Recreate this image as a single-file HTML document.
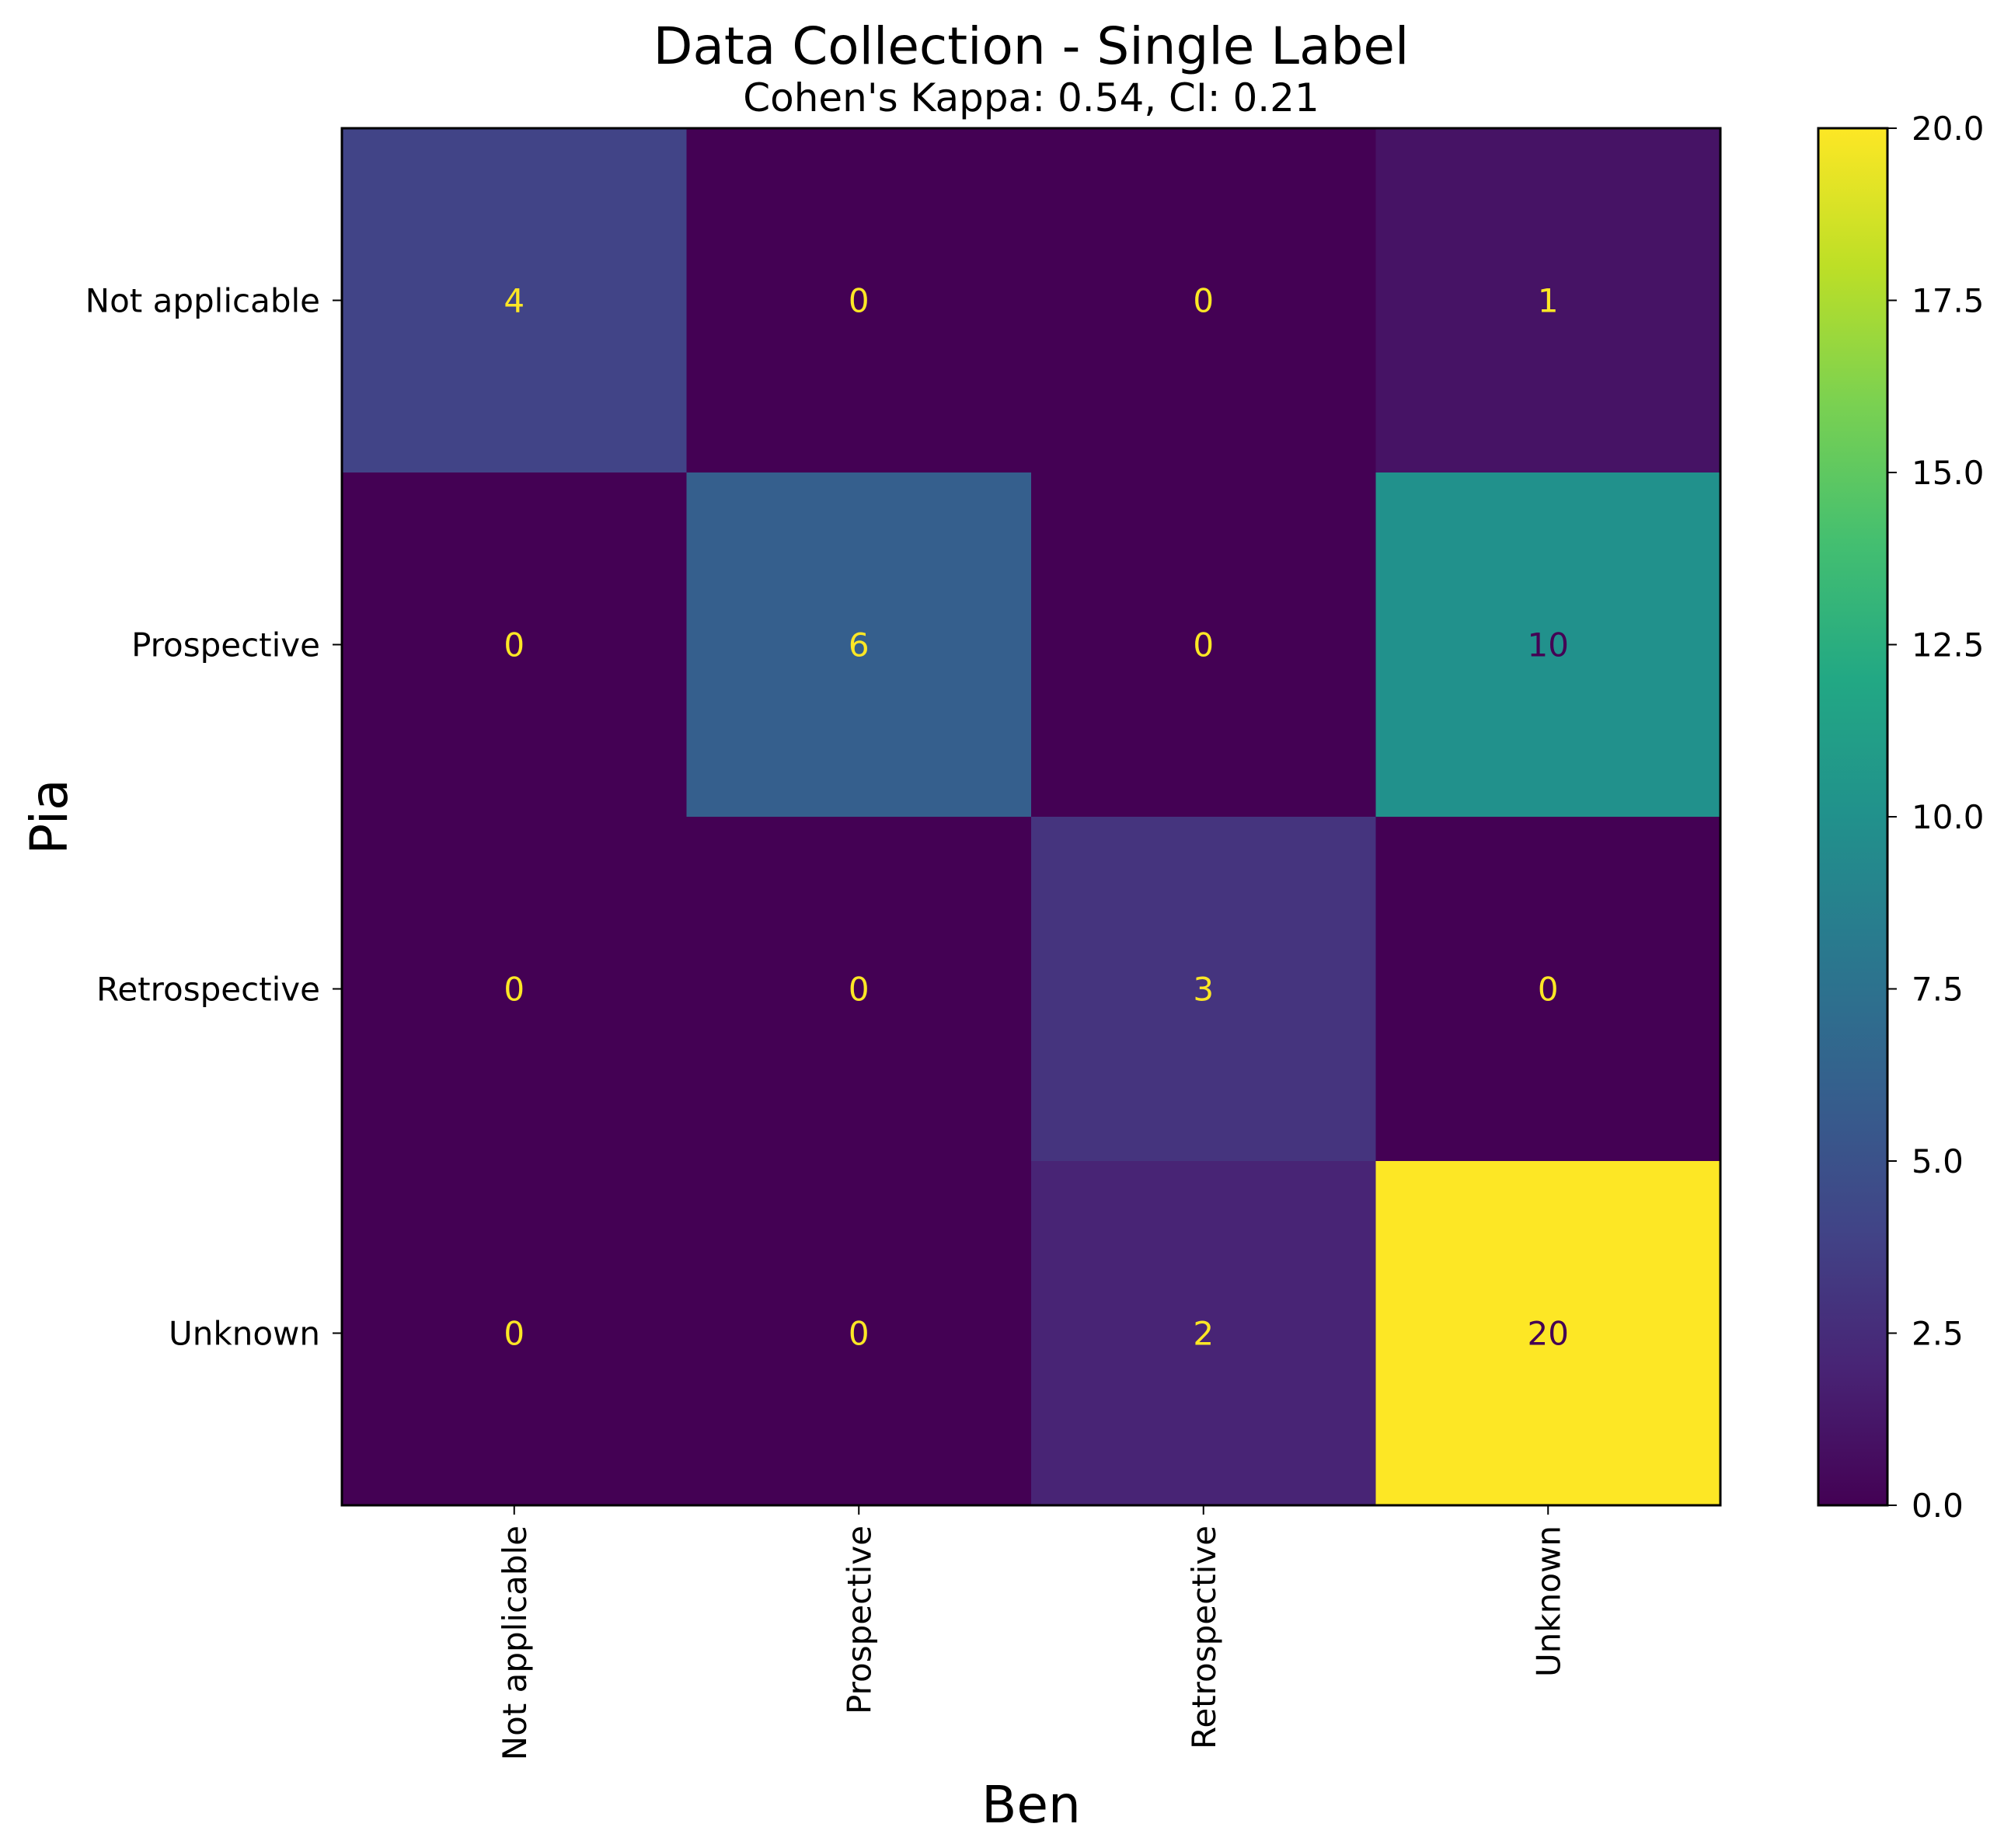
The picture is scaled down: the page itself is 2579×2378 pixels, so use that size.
<!DOCTYPE html>
<html><head><meta charset="utf-8"><style>
html,body{margin:0;padding:0;background:#fff;}
svg{display:block;font-family:"DejaVu Sans","Liberation Sans",sans-serif;}
</style></head><body>
<svg id="chart" width="2579" height="2378" viewBox="0 0 2579 2378" xmlns="http://www.w3.org/2000/svg">
<defs>
<linearGradient id="viridis" x1="0" y1="1" x2="0" y2="0">
<stop offset="0" stop-color="#440154"/><stop offset="0.1" stop-color="#482475"/><stop offset="0.2" stop-color="#414487"/><stop offset="0.3" stop-color="#355f8d"/><stop offset="0.4" stop-color="#2a788e"/><stop offset="0.5" stop-color="#21918c"/><stop offset="0.6" stop-color="#22a884"/><stop offset="0.7" stop-color="#44bf70"/><stop offset="0.8" stop-color="#7ad151"/><stop offset="0.9" stop-color="#bddf26"/><stop offset="1" stop-color="#fde725"/>
</linearGradient>
</defs>
<text x="1327" y="82" font-size="66" text-anchor="middle">Data Collection - Single Label</text>
<text x="1327" y="143" font-size="50" text-anchor="middle">Cohen's Kappa: 0.54, CI: 0.21</text>
<g id="cells"></g>
<rect x="440" y="165" width="1774" height="1772" fill="none" stroke="#000" stroke-width="3"/>
<g id="axes"></g>
<text font-size="66" text-anchor="middle" transform="translate(86,1051) rotate(-90)">Pia</text>
<text x="1327" y="2345" font-size="66" text-anchor="middle">Ben</text>
<rect x="2340" y="165" width="89" height="1772" fill="url(#viridis)" stroke="#000" stroke-width="3"/>
<g id="cbar"></g>
</svg>
<script>
const categories = ["Not applicable","Prospective","Retrospective","Unknown"];
const row0 = [4,0,0,1];
const row1 = [0,6,0,10];
const row2 = [0,0,3,0];
const row3 = [0,0,2,20];
const cbarTicks = ["0.0","2.5","5.0","7.5","10.0","12.5","15.0","17.5","20.0"];
const rows = [row0,row1,row2,row3];
const NS = "http://www.w3.org/2000/svg";
const X0=440,X1=2214,Y0=165,Y1=1937;
const vmin=0,vmax=20;
const cw=(X1-X0)/categories.length, ch=(Y1-Y0)/categories.length;
function xPos(i){return X0+cw*i;}
function yPos(i){return Y0+ch*i;}
const stops=["#440154","#482475","#414487","#355f8d","#2a788e","#21918c","#22a884","#44bf70","#7ad151","#bddf26","#fde725"];
function hex(c){return [1,3,5].map(k=>parseInt(c.substr(k,2),16));}
function viridis(t){t=Math.max(0,Math.min(1,t));const p=t*10,i=Math.min(9,Math.floor(p)),f=p-i;const a=hex(stops[i]),b=hex(stops[i+1]);return "rgb("+a.map((v,k)=>Math.round(v+(b[k]-v)*f)).join(",")+")";}
function mk(tag,attrs,parent){const e=document.createElementNS(NS,tag);for(const k in attrs)e.setAttribute(k,attrs[k]);parent.appendChild(e);return e;}
const cells=document.getElementById("cells"), axes=document.getElementById("axes"), cbar=document.getElementById("cbar");
rows.forEach((row,r)=>row.forEach((v,c)=>{
  const rect=mk("rect",{x:xPos(c),y:yPos(r),width:cw+0.5,height:ch+0.5,fill:viridis((v-vmin)/(vmax-vmin))},cells);
  
  
  const t=mk("text",{x:xPos(c)+cw/2,y:yPos(r)+ch/2+15,"font-size":42,"text-anchor":"middle",fill:v<(vmax+vmin)/2?"#fde725":"#440154"},cells);
  t.textContent=v;
  
  
}));
categories.forEach((name,i)=>{
  const yc=yPos(i)+ch/2;
  const tk=mk("line",{x1:428,x2:440,y1:yc,y2:yc,stroke:"#000","stroke-width":2},axes);
  
  
  const yl=mk("text",{x:412,y:yc+15,"font-size":42,"text-anchor":"end"},axes);
  yl.textContent=name;
  
  
  const xc=xPos(i)+cw/2;
  const tx=mk("line",{x1:xc,x2:xc,y1:Y1,y2:Y1+12,stroke:"#000","stroke-width":2},axes);
  
  
  const xl=mk("text",{"font-size":42,"text-anchor":"end",transform:"translate("+(xc+15)+","+(Y1+26)+") rotate(-90)"},axes);
  xl.textContent=name;
  
  
});
cbarTicks.forEach(lbl=>{
  const v=parseFloat(lbl);
  const y=Y1-(v-vmin)/(vmax-vmin)*(Y1-Y0);
  const l=mk("line",{x1:2429,x2:2441,y1:y,y2:y,stroke:"#000","stroke-width":2},cbar);
  
  
  const t=mk("text",{x:2460,y:y+15,"font-size":42},cbar);
  t.textContent=lbl;
  
  
});
</script>
</body></html>
